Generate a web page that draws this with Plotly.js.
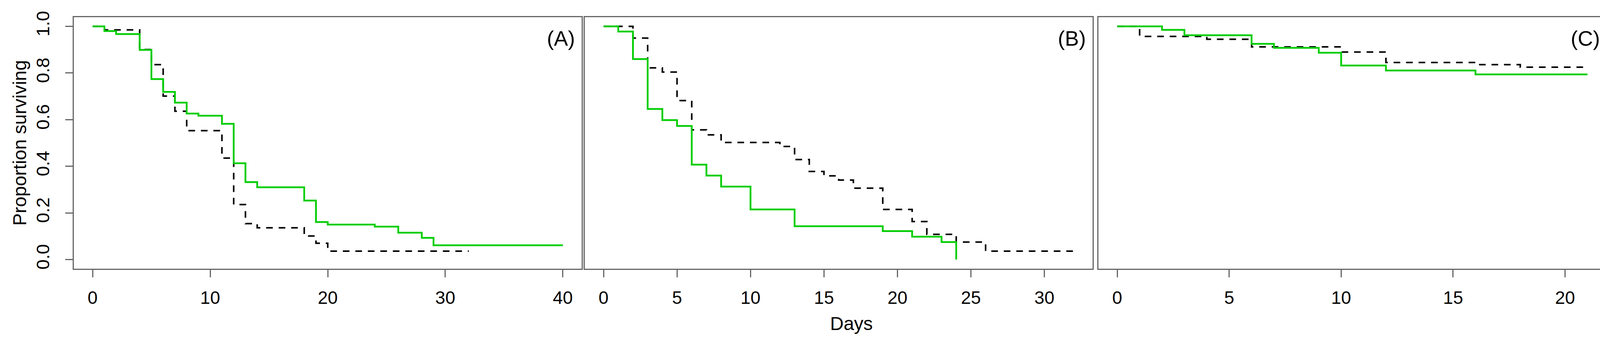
<!DOCTYPE html>
<html>
<head>
<meta charset="utf-8">
<script src="https://cdn.plot.ly/plotly-3.0.1.min.js"></script>
<style>html,body{margin:0;padding:0;background:#fff;}#chart{width:4146px;height:891px;}</style>
</head>
<body>
<div id="chart"></div>
<script>
// Panel A
const aGreenDays = [0,1,2,4,5,6,7,8,9,11,12,13,14,18,19,20,24,26,28,29,40];
const aGreenSurv = [1.0,0.980,0.967,0.899,0.774,0.719,0.673,0.626,0.617,0.582,0.413,0.332,0.310,0.253,0.161,0.150,0.141,0.115,0.093,0.061,0.061];
const aBlackDays = [0,1,4,5,6,7,8,11,12,13,14,18,19,20,32];
const aBlackSurv = [1.0,0.985,0.901,0.836,0.701,0.636,0.553,0.435,0.236,0.154,0.136,0.101,0.070,0.036,0.036];
// Panel B
const bGreenDays = [0,1,2,3,4,5,6,7,8,10,13,19,21,23,24];
const bGreenSurv = [1.0,0.978,0.860,0.646,0.598,0.573,0.407,0.360,0.313,0.215,0.143,0.122,0.098,0.075,0.0];
const bBlackDays = [0,2,3,4,5,6,7,8,12,13,14,15,16,17,19,21,22,24,26,32];
const bBlackSurv = [1.0,0.950,0.822,0.804,0.682,0.556,0.535,0.502,0.485,0.429,0.378,0.359,0.341,0.306,0.215,0.163,0.108,0.075,0.036,0.036];
// Panel C
const cGreenDays = [0,2,3,6,7,9,10,12,16,21];
const cGreenSurv = [1.0,0.985,0.962,0.925,0.908,0.887,0.832,0.811,0.794,0.794];
const cBlackDays = [0,1,4,6,10,12,16,18,21];
const cBlackSurv = [1.0,0.957,0.945,0.912,0.890,0.845,0.836,0.825,0.825];
// Tick labels
const yTickVals = [0,0.2,0.4,0.6,0.8,1.0];
const yTickText = ["0.0","0.2","0.4","0.6","0.8","1.0"];
const aXTicks = [0,10,20,30,40];
const bXTicks = [0,5,10,15,20,25,30];
const cXTicks = [0,5,10,15,20];
const panelLabels = ["(A)","(B)","(C)"];

const W = 4146, H = 891;
const GREEN = "#00CD00";
const FONT = "Liberation Sans, Arial, sans-serif";
const FRAME = "#666666";

function blackTrace(x, y, xa, ya){
  return {x:x, y:y, xaxis:xa, yaxis:ya, type:"scatter", mode:"lines",
    line:{shape:"hv", color:"#000000", width:4, dash:"17px,15px"}, hoverinfo:"skip", showlegend:false};
}
function greenTrace(x, y, xa, ya){
  return {x:x, y:y, xaxis:xa, yaxis:ya, type:"scatter", mode:"lines",
    line:{shape:"hv", color:GREEN, width:4.5}, hoverinfo:"skip", showlegend:false};
}
const data = [
  blackTrace(aBlackDays, aBlackSurv, "x", "y"),
  greenTrace(aGreenDays, aGreenSurv, "x", "y"),
  blackTrace(bBlackDays, bBlackSurv, "x2", "y2"),
  greenTrace(bGreenDays, bGreenSurv, "x2", "y2"),
  blackTrace(cBlackDays, cBlackSurv, "x3", "y3"),
  greenTrace(cGreenDays, cGreenSurv, "x3", "y3")
];

const yDom = [(H-688.4)/H, (H-43.7)/H];
function xAxis(dom, range, ticks, anchor){
  return {domain:[dom[0]/W, dom[1]/W], range:range, anchor:anchor, tickvals:ticks,
    ticktext:ticks.map(String), ticks:"outside", ticklen:19, tickwidth:3, tickcolor:FRAME,
    showline:true, mirror:true, linecolor:FRAME, linewidth:3, showgrid:false, zeroline:false,
    tickfont:{family:FONT, size:46, color:"#000"}, ticklabelstandoff:12, fixedrange:true};
}
function yAxis(anchor, showTicks){
  const ax = {domain:yDom, range:[-0.04,1.04], anchor:anchor, showline:true, mirror:true,
    linecolor:FRAME, linewidth:3, showgrid:false, zeroline:false, fixedrange:true};
  if(showTicks){
    ax.tickvals = yTickVals; ax.ticktext = yTickText; ax.ticks = "outside"; ax.ticklen = 19;
    ax.tickwidth = 3; ax.tickcolor = FRAME; ax.tickangle = -90;
    ax.tickfont = {family:FONT, size:47, color:"#000"}; ax.ticklabelstandoff = 22;
  } else {
    ax.showticklabels = false; ax.ticks = "";
  }
  return ax;
}

const panelRight = [1474, 2782, 4098];
const annotations = panelLabels.map((t,i)=>({
  text:t, xref:"paper", yref:"paper", x:panelRight[i]/W, y:(H-98)/H,
  xanchor:"right", yanchor:"middle", showarrow:false,
  font:{family:FONT, size:54, color:"#000"}
}));
annotations.push({text:"Proportion surviving", xref:"paper", yref:"paper", x:50/W, y:(H-366)/H,
  xanchor:"center", yanchor:"middle", textangle:-90, showarrow:false,
  font:{family:FONT, size:48, color:"#000"}});
annotations.push({text:"Days", xref:"paper", yref:"paper", x:2179/W, y:(H-828)/H,
  xanchor:"center", yanchor:"middle", showarrow:false,
  font:{family:FONT, size:48, color:"#000"}});

const layout = {
  width:W, height:H, margin:{l:0,r:0,t:0,b:0}, paper_bgcolor:"#fff", plot_bgcolor:"#fff",
  showlegend:false,
  xaxis: xAxis([189,1489], [-1.6,41.6], aXTicks, "y"),
  xaxis2: xAxis([1497,2797], [-1.28,33.28], bXTicks, "y2"),
  xaxis3: xAxis([2812,4112], [-0.84,21.84], cXTicks, "y3"),
  yaxis: yAxis("x", true),
  yaxis2: yAxis("x2", false),
  yaxis3: yAxis("x3", false),
  annotations: annotations
};
Plotly.newPlot("chart", data, layout, {staticPlot:true, displayModeBar:false});
</script>
</body>
</html>
